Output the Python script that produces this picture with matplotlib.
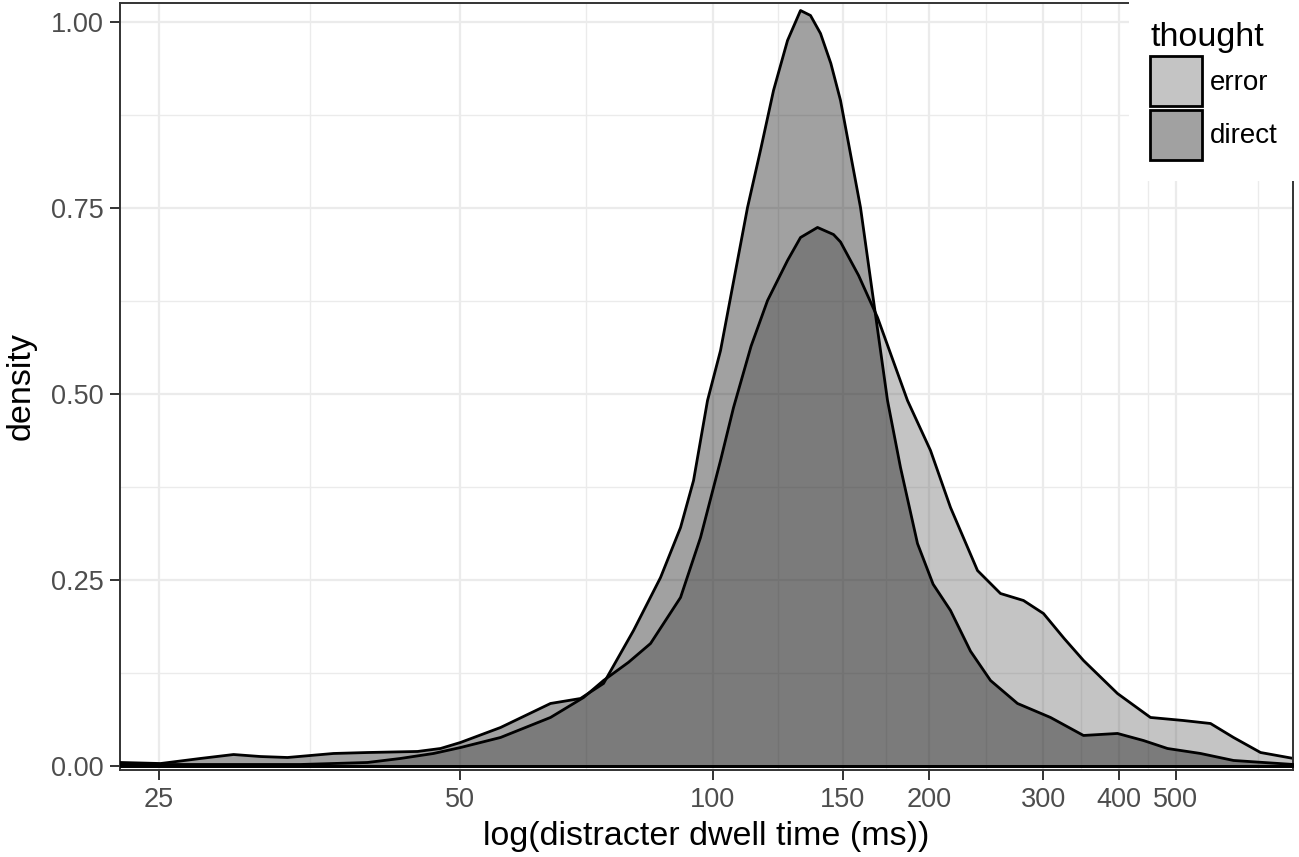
import numpy as np
import matplotlib
matplotlib.use("Agg")
import matplotlib.pyplot as plt
from matplotlib.patches import Patch
from matplotlib.ticker import FixedLocator, NullFormatter

plt.rcParams['font.family'] = ['Liberation Sans', 'DejaVu Sans']

# x is log(dwell time in ms), y is density
direct_logt = [3.1387, 3.2210, 3.3054, 3.3768, 3.4363, 3.4969, 3.6025, 3.6826, 3.8038, 3.8608,
               3.9110, 4.0136, 4.1455, 4.2268, 4.2902, 4.3743, 4.4514, 4.5094, 4.5475, 4.5888,
               4.6276, 4.7091, 4.7500, 4.7890, 4.8326, 4.8734, 4.9050, 4.9369, 4.9700, 5.0012,
               5.0663, 5.1091, 5.1556, 5.1991, 5.2566, 5.3100, 5.3701, 5.4400, 5.5109, 5.6080,
               5.7290, 5.8526, 5.9828, 6.0843, 6.1795, 6.3129, 6.4493, 6.7046]
direct_density = [0.0054, 0.0040, 0.0108, 0.0161, 0.0134, 0.0121, 0.0175, 0.0188, 0.0202, 0.0242,
                  0.0323, 0.0524, 0.0847, 0.0914, 0.1116, 0.1828, 0.2540, 0.3212, 0.3844, 0.4919,
                  0.5591, 0.7513, 0.8306, 0.9086, 0.9758, 1.0161, 1.0094, 0.9852, 0.9450, 0.8952,
                  0.7513, 0.6263, 0.4919, 0.4019, 0.2997, 0.2450, 0.2097, 0.1550, 0.1156, 0.0847,
                  0.0659, 0.0417, 0.0444, 0.0349, 0.0242, 0.0175, 0.0081, 0.0027]

error_logt = [3.1387, 3.5264, 3.6826, 3.7621, 3.8433, 3.9110, 4.0136, 4.1455, 4.2350, 4.2902,
              4.3600, 4.4227, 4.5094, 4.5681, 4.6276, 4.6667, 4.7200, 4.7705, 4.8326, 4.8734,
              4.9273, 4.9786, 5.0012, 5.0600, 5.1224, 5.2227, 5.3011, 5.3701, 5.4647, 5.5466,
              5.6298, 5.7031, 5.7800, 5.8526, 5.9828, 6.1119, 6.2438, 6.3539, 6.4493, 6.5630,
              6.7046]
error_density = [0.0027, 0.0027, 0.0054, 0.0108, 0.0175, 0.0255, 0.0390, 0.0659, 0.0927, 0.1156,
                 0.1400, 0.1653, 0.2272, 0.3078, 0.4113, 0.4825, 0.5650, 0.6263, 0.6801, 0.7110,
                 0.7245, 0.7150, 0.7050, 0.6600, 0.6035, 0.4919, 0.4247, 0.3481, 0.2634, 0.2325,
                 0.2231, 0.2056, 0.1720, 0.1425, 0.0981, 0.0659, 0.0618, 0.0578, 0.0390, 0.0188,
                 0.0108]

x_breaks = [25, 50, 100, 150, 200, 300, 400, 500]
x_minor_breaks = [34.8, 69.7, 121.9, 172.9, 244, 346, 447, 701]
y_breaks = [0.0, 0.25, 0.50, 0.75, 1.00]
y_minor_breaks = [0.125, 0.375, 0.625, 0.875]

error_fill = (0x5f / 255, 0x5f / 255, 0x5f / 255, 0.37)
direct_fill = (0.0, 0.0, 0.0, 0.37)

fig = plt.figure(figsize=(12.99, 8.57), dpi=100)
ax = fig.add_axes([0.0924, 0.1015, 0.9030, 0.8950])

ax.fill_between(error_logt, error_density, facecolor=error_fill, edgecolor='black',
                linewidth=2.0, zorder=2, joinstyle='round')
ax.fill_between(direct_logt, direct_density, facecolor=direct_fill, edgecolor='black',
                linewidth=2.0, zorder=3, joinstyle='round')

ax.set_xscale('log')
ax.set_xlim(3.1387, 6.7046)
ax.set_ylim(-0.0054, 1.0255)

ax.xaxis.set_major_locator(FixedLocator(np.log(x_breaks)))
ax.set_xticklabels([str(b) for b in x_breaks])
ax.xaxis.set_minor_locator(FixedLocator(np.log(x_minor_breaks)))
ax.xaxis.set_minor_formatter(NullFormatter())
ax.set_yticks(y_breaks)
ax.set_yticklabels([f"{b:.2f}" for b in y_breaks])
ax.yaxis.set_minor_locator(FixedLocator(y_minor_breaks))

ax.set_axisbelow(True)
ax.grid(which='major', color='#ebebeb', linewidth=1.6)
ax.grid(which='minor', color='#ebebeb', linewidth=1.0)

ax.tick_params(which='major', length=7, width=1.4, color='#333333', labelcolor='#4d4d4d',
               labelsize=19.5, pad=5)
ax.tick_params(which='minor', length=0)
for s in ax.spines.values():
    s.set_color('#333333')
    s.set_linewidth(1.4)

ax.set_xlabel('log(distracter dwell time (ms))', fontsize=24.5, labelpad=6)
ax.set_ylabel('density', fontsize=24.5, labelpad=10)

handles = [Patch(facecolor=error_fill, edgecolor='black', linewidth=2.0),
           Patch(facecolor=direct_fill, edgecolor='black', linewidth=2.0)]
leg = fig.legend(handles, ['error', 'direct'], title='thought', loc='upper right',
                 bbox_to_anchor=(1.0, 1.0), borderaxespad=0, fontsize=20, title_fontsize=24.5,
                 frameon=True, fancybox=False, handlelength=1.84, handleheight=2.39,
                 handletextpad=0.29, labelspacing=0.13, borderpad=0.78, alignment='left')
leg.get_frame().set_facecolor('white')
leg.get_frame().set_edgecolor('none')
leg.get_frame().set_alpha(1)

fig.savefig('out.png', dpi=100)
